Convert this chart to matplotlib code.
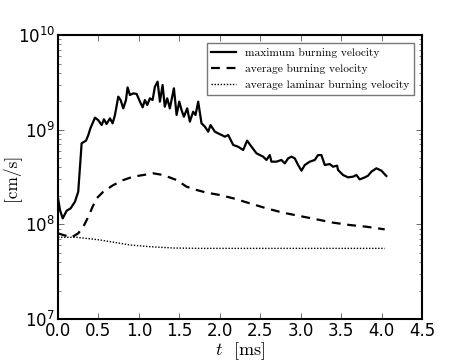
import numpy as np
import matplotlib
matplotlib.use("Agg")
import matplotlib.pyplot as plt

# maximum burning velocity: time [ms], log10(v [cm/s])
t_max = [0.00, 0.025, 0.058, 0.107, 0.156, 0.21, 0.25, 0.292, 0.346, 0.375, 0.40, 0.457, 0.498, 0.539,
         0.568, 0.60, 0.642, 0.675, 0.704, 0.745, 0.774, 0.807, 0.840, 0.86, 0.889, 0.93, 0.972, 1.013,
         1.046, 1.074, 1.103, 1.136, 1.169, 1.198, 1.231, 1.26, 1.293, 1.32, 1.35, 1.383, 1.416, 1.433,
         1.466, 1.499, 1.527, 1.556, 1.597, 1.63, 1.671, 1.70, 1.733, 1.774, 1.816, 1.857, 1.886, 1.939,
         1.98, 2.021, 2.063, 2.104, 2.166, 2.227, 2.289, 2.338, 2.392, 2.454, 2.536, 2.577, 2.618, 2.639,
         2.70, 2.762, 2.804, 2.845, 2.886, 2.927, 2.968, 3.01, 3.051, 3.112, 3.174, 3.215, 3.256, 3.298,
         3.36, 3.40, 3.45, 3.462, 3.524, 3.586, 3.648, 3.689, 3.73, 3.792, 3.833, 3.874, 3.936, 3.998, 4.059]
log_max = [8.275, 8.15, 8.063, 8.144, 8.169, 8.24, 8.345, 8.856, 8.884, 8.944, 9.014, 9.127, 9.10, 9.049,
           9.109, 9.06, 9.12, 9.067, 9.155, 9.349, 9.313, 9.225, 9.313, 9.447, 9.366, 9.384, 9.377, 9.296,
           9.236, 9.313, 9.261, 9.331, 9.313, 9.454, 9.507, 9.296, 9.472, 9.243, 9.331, 9.225, 9.366, 9.437,
           9.155, 9.296, 9.208, 9.137, 9.225, 9.085, 9.19, 9.155, 9.296, 9.067, 9.032, 8.979, 9.049, 8.979,
           8.961, 8.944, 8.926, 8.944, 8.838, 8.82, 8.785, 8.884, 8.82, 8.75, 8.715, 8.68, 8.732, 8.662,
           8.662, 8.68, 8.644, 8.697, 8.715, 8.697, 8.627, 8.567, 8.627, 8.662, 8.68, 8.732, 8.732, 8.627,
           8.637, 8.609, 8.62, 8.574, 8.521, 8.496, 8.504, 8.521, 8.475, 8.496, 8.514, 8.556, 8.592, 8.567, 8.511]

# average burning velocity
t_avg = [0.0, 0.066, 0.169, 0.25, 0.313, 0.375, 0.428, 0.478, 0.56, 0.683, 0.807, 0.93, 1.054, 1.177,
         1.301, 1.466, 1.589, 1.713, 1.836, 2.0, 2.166, 2.371, 2.577, 2.783, 2.989, 3.195, 3.40, 3.606,
         3.812, 4.039]
log_avg = [7.905, 7.887, 7.863, 7.905, 7.975, 8.081, 8.187, 8.275, 8.345, 8.415, 8.468, 8.504, 8.521,
           8.539, 8.521, 8.468, 8.398, 8.363, 8.335, 8.31, 8.275, 8.222, 8.169, 8.123, 8.088, 8.053, 8.018,
           7.993, 7.975, 7.947]

# average laminar burning velocity
t_lam = [0.0, 0.23, 0.519, 0.725, 0.889, 1.136, 1.424, 1.754, 4.039]
log_lam = [7.863, 7.863, 7.835, 7.806, 7.782, 7.764, 7.75, 7.746, 7.746]

labels = ["maximum burning velocity", "average burning velocity", "average laminar burning velocity"]

fig = plt.figure(figsize=(4.69, 3.64), dpi=100)
ax = fig.add_axes([0.1237, 0.1236, 0.7761, 0.7802])

ax.plot(t_max, 10 ** np.array(log_max), color="black", lw=1.6, ls="-", label=labels[0])
ax.plot(t_avg, 10 ** np.array(log_avg), color="black", lw=1.6, ls=(0, (4, 3)), label=labels[1])
ax.plot(t_lam, 10 ** np.array(log_lam), color="black", lw=1.0, ls=(0, (1, 1.2)), label=labels[2])

ax.set_yscale("log")
ax.set_xlim(0, 4.5)
ax.set_ylim(1e7, 1e10)
ax.set_xticks(np.arange(0, 4.51, 0.5))
ax.set_xticklabels(["%.1f" % v for v in np.arange(0, 4.51, 0.5)])

for sp in ax.spines.values():
    sp.set_linewidth(1.5)
ax.tick_params(which="both", direction="in", top=True, right=True, labelsize=12, pad=2, color="#555555")
ax.tick_params(which="major", length=4, width=0.6)
ax.tick_params(which="minor", length=2, width=0.5)

ax.set_xlabel("$t$  [ms]", fontsize=13, fontfamily="cmr10", math_fontfamily="cm", labelpad=0)
ax.set_ylabel("[cm/s]", fontsize=12.5, fontfamily="cmr10", labelpad=0)
ax.yaxis.set_label_coords(-0.105, 0.5)

leg = ax.legend(loc="upper right", prop={"family": "cmr10", "size": 8.2}, frameon=True, fancybox=False,
                handlelength=2.2, borderaxespad=0.7, labelspacing=0.55)
leg.get_frame().set_edgecolor("#555555")
leg.get_frame().set_linewidth(1.0)

fig.savefig("out.png", dpi=100)
